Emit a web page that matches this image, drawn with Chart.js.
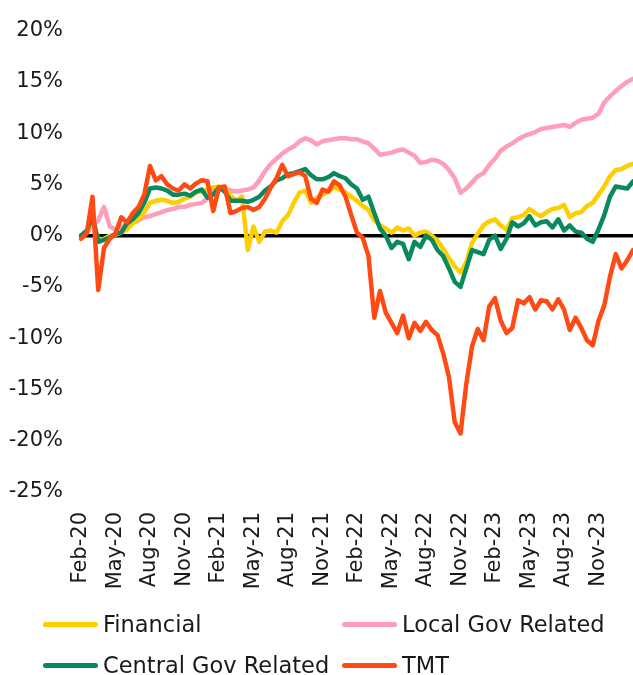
<!DOCTYPE html>
<html>
<head>
<meta charset="utf-8">
<script src="https://cdn.jsdelivr.net/npm/chart.js@4.4.1/dist/chart.umd.min.js"></script>
<style>
  html, body { margin: 0; padding: 0; background: #fff; }
  #wrap { position: relative; width: 633px; height: 675px; }
  #legend { position: absolute; left: 0; top: 0; width: 633px; height: 675px; pointer-events: none;
            font-family: "DejaVu Sans", sans-serif; font-size: 22.5px; color: #1a1a1a; }
  .item { position: absolute; display: flex; align-items: center; height: 28px; line-height: 28px; white-space: nowrap; }
  .swatch { width: 55px; height: 5px; border-radius: 3px; margin-right: 5px; }
</style>
</head>
<body>
<div id="wrap">
  <canvas id="my-chart" width="633" height="675"></canvas>
  <div id="legend"></div>
</div>
<script>
// half-monthly points, 1 Feb 2020 -> 1 Feb 2024
let dates = [];
for (let m = 1; m <= 49; m++) {
  let yr = 2020 + Math.floor(m / 12);
  let mo = (m % 12) + 1;
  let mm = String(mo).padStart(2, "0");
  dates.push(yr + "-" + mm + "-01");
  if (m < 49) dates.push(yr + "-" + mm + "-15");
}

let tickLabels = ["Feb-20", "May-20", "Aug-20", "Nov-20", "Feb-21", "May-21", "Aug-21", "Nov-21",
                  "Feb-22", "May-22", "Aug-22", "Nov-22", "Feb-23", "May-23", "Aug-23", "Nov-23"];

let seriesNames = ["Financial", "Local Gov Related", "Central Gov Related", "TMT"];
let seriesColors = ["#ffce00", "#ff9eb8", "#0a8a5c", "#ff4a14"];

let financial = [
  0.0, 0.4, 1.8, -0.4, -0.3, 0.0, 0.1, 0.3, 0.6, 1.2,
  1.6, 2.3, 3.2, 3.4, 3.5, 3.4, 3.2, 3.3, 3.6, 3.8,
  4.2, 4.3, 4.5, 4.7, 4.8, 4.6, 3.9, 3.4, 3.8, -1.4,
  0.9, -0.6, 0.4, 0.5, 0.3, 1.4, 2.0, 3.2, 4.2, 4.4,
  3.2, 3.7, 4.0, 4.3, 4.7, 4.5, 4.2, 3.8, 3.4, 2.9,
  2.5, 1.5, 1.0, 0.7, 0.3, 0.8, 0.5, 0.7, 0.0, 0.3,
  0.4, 0.0, -0.5, -1.3, -2.2, -3.0, -3.6, -2.6, -0.7, 0.2,
  1.0, 1.4, 1.6, 1.0, 0.6, 1.7, 1.8, 2.0, 2.6, 2.2,
  1.9, 2.3, 2.6, 2.7, 3.0, 1.8, 2.2, 2.3, 2.9, 3.2,
  4.0, 4.8, 5.8, 6.4, 6.5, 6.8, 7.0
];

let localGov = [
  0.0, 0.3, 1.0, 1.5, 2.8, 0.9, 0.6, 0.8, 1.2, 1.3,
  1.5, 1.8, 1.9, 2.1, 2.3, 2.5, 2.6, 2.8, 2.8, 3.0,
  3.1, 3.2, 3.6, 4.3, 4.7, 4.6, 4.4, 4.3, 4.4, 4.5,
  4.7, 5.4, 6.3, 7.0, 7.5, 8.0, 8.4, 8.7, 9.2, 9.5,
  9.3, 8.9, 9.2, 9.3, 9.4, 9.5, 9.5, 9.4, 9.4, 9.2,
  9.0, 8.5, 7.9, 8.0, 8.1, 8.3, 8.4, 8.1, 7.8, 7.1,
  7.2, 7.4, 7.3, 7.0, 6.4, 5.6, 4.2, 4.6, 5.2, 5.8,
  6.1, 6.9, 7.5, 8.3, 8.7, 9.0, 9.4, 9.7, 9.9, 10.1,
  10.4, 10.5, 10.6, 10.7, 10.8, 10.6, 11.0, 11.3, 11.4, 11.5,
  11.9, 13.0, 13.6, 14.1, 14.6, 15.0, 15.3
];

let centralGov = [
  0.0, 0.5, 1.8, -0.6, -0.4, -0.2, 0.2, 0.3, 1.2, 1.6,
  2.2, 3.2, 4.6, 4.7, 4.6, 4.4, 4.0, 4.0, 4.1, 3.9,
  4.3, 4.5, 3.7, 4.0, 4.7, 4.3, 3.4, 3.4, 3.4, 3.3,
  3.5, 3.8, 4.4, 4.8, 5.4, 5.6, 6.0, 6.1, 6.3, 6.5,
  5.9, 5.5, 5.5, 5.7, 6.1, 5.8, 5.6, 5.0, 4.6, 3.5,
  3.8, 2.2, 0.7, 0.0, -1.2, -0.6, -0.8, -2.3, -0.6, -1.1,
  0.0, -0.4, -1.4, -2.0, -3.2, -4.5, -5.0, -3.2, -1.4, -1.6,
  -1.8, -0.4, 0.0, -1.3, -0.3, 1.3, 0.9, 1.2, 1.9, 1.0,
  1.3, 1.4, 0.8, 1.6, 0.5, 1.0, 0.4, 0.3, -0.3, -0.6,
  0.6, 2.0, 3.8, 4.8, 4.7, 4.6, 5.3
];

let tmt = [
  -0.3, 0.2, 3.8, -5.3, -1.2, -0.3, 0.2, 1.8, 1.3, 2.2,
  2.8, 4.0, 6.8, 5.4, 5.8, 5.0, 4.6, 4.4, 5.0, 4.6,
  5.1, 5.4, 5.3, 2.4, 4.7, 4.8, 2.2, 2.4, 2.7, 2.8,
  2.5, 2.8, 3.6, 4.7, 5.6, 6.9, 5.8, 6.0, 6.2, 5.8,
  3.6, 3.2, 4.5, 4.3, 5.3, 4.9, 3.8, 2.0, 0.3, -0.2,
  -2.0, -8.0, -5.4, -7.5, -8.5, -9.5, -7.8, -10.0, -8.5, -9.3,
  -8.4, -9.2, -9.7, -11.5, -13.8, -18.2, -19.3, -14.5, -10.8, -9.1,
  -10.2, -6.9, -6.1, -8.3, -9.5, -9.0, -6.3, -6.6, -6.0, -7.2,
  -6.3, -6.4, -7.2, -6.2, -7.2, -9.2, -8.0, -9.0, -10.2, -10.7,
  -8.3, -6.8, -4.0, -1.8, -3.2, -2.4, -1.4
];

let seriesData = [financial, localGov, centralGov, tmt];
let drawOrder = [2, 3, 1, 0]; // TMT on top, then green, yellow, pink

let axisFont = { family: "DejaVu Sans", size: 21 };

let ctx = document.getElementById("my-chart").getContext("2d");

let lineChart = new Chart(ctx, {
  type: "line",
  data: {
    labels: dates,
    datasets: seriesNames.map((name, k) => ({
      label: name,
      data: seriesData[k],
      borderColor: seriesColors[k],
      backgroundColor: seriesColors[k],
      borderWidth: 4.5,
      pointRadius: 0,
      tension: 0,
      borderJoinStyle: "round",
      borderCapStyle: "round",
      order: drawOrder[k],
    })),
  },
  options: {
    responsive: false,
    animation: false,
    layout: { padding: { top: 22, right: 0, bottom: 0, left: 0 } },
    plugins: {
      legend: { display: false },
      tooltip: { enabled: false },
    },
    scales: {
      x: {
        grid: { display: false },
        border: { display: false },
        ticks: {
          autoSkip: false,
          minRotation: 90,
          maxRotation: 90,
          padding: 12,
          color: "#1a1a1a",
          font: axisFont,
          callback: (v, i) => (i % 6 === 0 ? tickLabels[i / 6] || "" : ""),
        },
        afterFit: (s) => {
          s.height = 183;
          s.paddingLeft = 0;
          s.paddingRight = 0;
        },
      },
      y: {
        min: -25,
        max: 20,
        border: { display: false },
        grid: {
          drawTicks: false,
          color: (c) => (c.tick && c.tick.value === 0 ? "#000000" : "rgba(0,0,0,0)"),
          lineWidth: (c) => (c.tick && c.tick.value === 0 ? 3.5 : 0),
        },
        ticks: {
          stepSize: 5,
          padding: 18,
          color: "#1a1a1a",
          font: axisFont,
          callback: (v) => v + "%",
        },
        afterFit: (s) => { s.width = 81; },
      },
    },
  },
});

// legend laid out as a 2x2 grid below the axis
let legendPos = [[43, 610], [342, 610], [43, 651], [342, 651]];
let legendBox = document.getElementById("legend");
seriesNames.forEach((name, k) => {
  let item = document.createElement("div");
  item.className = "item";
  item.style.left = legendPos[k][0] + "px";
  item.style.top = legendPos[k][1] + "px";
  let sw = document.createElement("span");
  sw.className = "swatch";
  sw.style.background = seriesColors[k];
  let tx = document.createElement("span");
  tx.textContent = name;
  item.appendChild(sw);
  item.appendChild(tx);
  legendBox.appendChild(item);
});
</script>
</body>
</html>
